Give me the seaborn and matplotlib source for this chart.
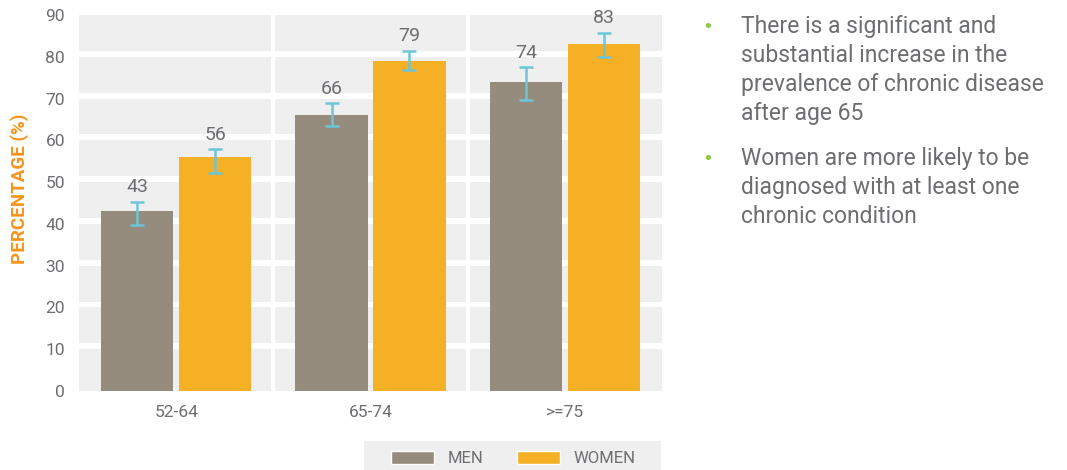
import matplotlib
matplotlib.use("Agg")
import matplotlib.pyplot as plt
from matplotlib.patches import Rectangle, Patch
import seaborn as sns
import pandas as pd

# Data
age_groups = ["52-64", "65-74", ">=75"]
sexes = ["MEN", "WOMEN"]
men_pct = [43, 66, 74]
women_pct = [56, 79, 83]
men_ci_low = [39.7, 63.4, 69.7]
men_ci_high = [45.3, 68.9, 77.5]
women_ci_low = [52.3, 76.9, 79.9]
women_ci_high = [57.9, 81.4, 85.7]
y_ticks = [0, 10, 20, 30, 40, 50, 60, 70, 80, 90]
bullets = [
    ["There is a significant and", "substantial increase in the",
     "prevalence of chronic disease", "after age 65"],
    ["Women are more likely to be", "diagnosed with at least one",
     "chronic condition"],
]

MEN_C = "#958c7e"
WOMEN_C = "#f5b025"
ERR_C = "#6cc5d8"
TEXT_C = "#6d6e71"
CELL_C = "#efefef"

df = pd.DataFrame({
    "age": age_groups * 2,
    "sex": [sexes[0]] * 3 + [sexes[1]] * 3,
    "pct": men_pct + women_pct,
})
ci_low = {sexes[0]: men_ci_low, sexes[1]: women_ci_low}
ci_high = {sexes[0]: men_ci_high, sexes[1]: women_ci_high}

sns.set_theme(style="white")
plt.rcParams["font.family"] = ["Roboto", "DejaVu Sans"]

fig = plt.figure(figsize=(10.67, 4.70), dpi=100)
ax = fig.add_axes([79 / 1067, 1 - 391 / 470, 583 / 1067, 376 / 470])
ax.set_facecolor(CELL_C)

sns.barplot(data=df, x="age", y="pct", hue="sex", order=age_groups,
            hue_order=sexes, palette=[MEN_C, WOMEN_C], width=0.8, gap=0.07,
            errorbar=None, legend=False, saturation=1, linewidth=0,
            ax=ax, zorder=2)

# white cell dividers
for t in y_ticks[1:-1]:
    ax.axhspan(t, t + 1.4, color="white", lw=0, zorder=1)
for xv in [0.5, 1.5]:
    ax.axvline(xv, color="white", lw=3, zorder=1)

# error bars and value labels
for sex, cont in zip(sexes, ax.containers):
    vals = df[df["sex"] == sex]["pct"].tolist()
    for i, bar in enumerate(cont.patches):
        xc = bar.get_x() + bar.get_width() / 2
        lo, hi, v = ci_low[sex][i], ci_high[sex][i], vals[i]
        ax.errorbar([xc], [v], yerr=[[v - lo], [hi - v]], fmt="none",
                    ecolor=ERR_C, elinewidth=1.8, capsize=5, capthick=1.8,
                    zorder=3)
        ax.annotate(f"{v}", (xc, hi), xytext=(0, 4), textcoords="offset points",
                    ha="center", va="bottom", fontsize=14, color=TEXT_C)

ax.set_xlim(-0.5, 2.5)
ax.set_ylim(0, 90)
ax.set_yticks(y_ticks)
ax.tick_params(axis="both", length=0, labelsize=12.5, labelcolor=TEXT_C)
ax.tick_params(axis="y", pad=10)
ax.tick_params(axis="x", pad=10)
ax.set_xlabel("")
ax.set_ylabel("PERCENTAGE (%)", color="#f7941d", fontsize=13.5,
              fontweight="bold")
ax.yaxis.set_label_coords(-0.085, 0.539)
for s in ax.spines.values():
    s.set_visible(False)

# legend strip
fig.patches.append(Rectangle((364 / 1067, 0), 297 / 1067, 29 / 470,
                             transform=fig.transFigure, color=CELL_C, lw=0,
                             zorder=0))
handles = [Patch(facecolor=MEN_C), Patch(facecolor=WOMEN_C)]
fig.legend(handles, sexes, ncol=2, frameon=False, loc="center",
           bbox_to_anchor=(513 / 1067, 1 - 458.5 / 470), fontsize=12,
           labelcolor=TEXT_C, handlelength=2.6, handleheight=0.8,
           handletextpad=0.8, columnspacing=2.0, borderpad=0)

# bullet notes
line_h = 29
y0 = [33, 165]
for block, yb in zip(bullets, y0):
    fig.text(708 / 1067, 1 - (yb - 6) / 470, "•", color="#8dc63f",
             fontsize=13, family="DejaVu Sans", ha="center", va="center")
    for k, line in enumerate(block):
        fig.text(741 / 1067, 1 - (yb + k * line_h) / 470, line, color=TEXT_C,
                 fontsize=16.5, ha="left", va="baseline")

fig.savefig("out.png", dpi=100)
